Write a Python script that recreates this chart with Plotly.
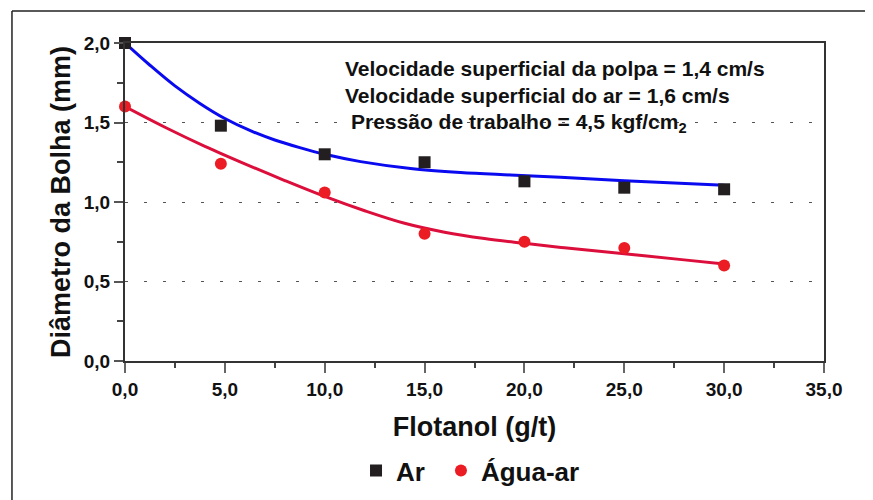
import plotly.graph_objects as go

# ---- data ----
flotanol = [0, 4.8, 10, 15, 20, 25, 30]
ar = [2.00, 1.48, 1.30, 1.25, 1.13, 1.09, 1.08]
agua_ar = [1.60, 1.24, 1.06, 0.80, 0.75, 0.71, 0.60]

# fitted curves
fit_ar_x = [0, 1.25, 2.5, 3.75, 5, 6.25, 7.5, 8.75, 10, 11.8, 14.3, 16.8, 19.3, 21.8, 25, 27.5, 30]
fit_ar_y = [2.000, 1.860, 1.730, 1.620, 1.525, 1.450, 1.390, 1.342, 1.300, 1.254, 1.211, 1.186,
            1.170, 1.155, 1.134, 1.120, 1.105]
fit_agua_x = [0, 2, 4, 6, 8, 10, 12, 14, 16, 18, 20, 22, 24, 26, 28, 30]
fit_agua_y = [1.600, 1.470, 1.350, 1.240, 1.135, 1.035, 0.945, 0.866, 0.810, 0.770, 0.740,
              0.712, 0.687, 0.662, 0.636, 0.610]

x_ticks = [0, 5, 10, 15, 20, 25, 30, 35]
x_ticktext = ["0,0", "5,0", "10,0", "15,0", "20,0", "25,0", "30,0", "35,0"]
y_ticks = [0, 0.5, 1.0, 1.5, 2.0]
y_ticktext = ["0,0", "0,5", "1,0", "1,5", "2,0"]

notes = [
    "Velocidade superficial da polpa = 1,4 cm/s",
    "Velocidade superficial do ar = 1,6 cm/s",
    "Pressão de trabalho = 4,5 kgf/cm<sub>2</sub>",
]

FONT = "Liberation Sans, Arial, Helvetica, sans-serif"

fig = go.Figure()
fig.add_trace(go.Scatter(x=fit_ar_x, y=fit_ar_y, mode="lines", line=dict(color="#0a0af0", width=3, shape="spline"),
                         showlegend=False, hoverinfo="skip", cliponaxis=False))
fig.add_trace(go.Scatter(x=fit_agua_x, y=fit_agua_y, mode="lines", line=dict(color="#dc0f3c", width=3, shape="spline"),
                         showlegend=False, hoverinfo="skip", cliponaxis=False))
fig.add_trace(go.Scatter(x=flotanol, y=ar, mode="markers", name="Ar", legend="legend",
                         marker=dict(symbol="square", size=12, color="#231f20"), cliponaxis=False))
fig.add_trace(go.Scatter(x=flotanol, y=agua_ar, mode="markers", name="Água-ar", legend="legend2",
                         marker=dict(symbol="circle", size=12, color="#ec1c24"), cliponaxis=False))

ys = [0.921, 0.836, 0.748]
xs = [0.3119, 0.3119, 0.3205]
for t, xx, yy in zip(notes, xs, ys):
    fig.add_annotation(text=t, x=xx, y=yy, xref="paper", yref="paper", xanchor="left", yanchor="middle",
                       showarrow=False, font=dict(size=21, color="#111", family=FONT, weight="bold"))

# outer frame (top and left edges visible)
fig.add_shape(type="line", xref="paper", yref="paper", x0=-0.1617, x1=1.2, y0=1.1006, y1=1.1006,
              line=dict(color="#222", width=1.5))
fig.add_shape(type="line", xref="paper", yref="paper", x0=-0.1617, x1=-0.1617, y0=-0.5, y1=1.1006,
              line=dict(color="#222", width=1.5))

fig.update_xaxes(range=[0, 35], tickvals=x_ticks, ticktext=x_ticktext, ticks="outside", ticklen=10,
                 tickwidth=1.5, tickcolor="#666", showline=True, linecolor="#333", linewidth=2,
                 mirror=True, showgrid=False, zeroline=False, automargin=False,
                 minor=dict(dtick=2.5, tick0=0, ticks="outside", ticklen=5, tickcolor="#444", showgrid=False),
                 tickfont=dict(size=19, family=FONT, color="#111", weight="bold"),
                 title=dict(text="Flotanol (g/t)", font=dict(size=27, family=FONT, color="#111", weight="bold"),
                            standoff=18))
fig.update_yaxes(range=[0, 2], tickvals=y_ticks, ticktext=y_ticktext, ticks="outside", ticklen=9,
                 tickwidth=1.5, tickcolor="#555", showline=True, linecolor="#333", linewidth=2,
                 mirror=True, showgrid=True, gridcolor="#555", gridwidth=1, griddash="3px,16px",
                 zeroline=False, automargin=False,
                 minor=dict(dtick=0.25, tick0=0, ticks="outside", ticklen=6, tickcolor="#444", showgrid=False),
                 tickfont=dict(size=19, family=FONT, color="#111", weight="bold"),
                 title=dict(text="Diâmetro da Bolha (mm)", font=dict(size=27, family=FONT, color="#111", weight="bold"),
                            standoff=5))

legend_font = dict(size=26, family=FONT, color="#111", weight="bold")
fig.update_layout(
    template="none",
    width=873, height=500, autosize=False,
    margin=dict(l=117, r=57, t=35, b=147),
    paper_bgcolor="white", plot_bgcolor="white",
    font=dict(family=FONT, color="#111"),
    showlegend=True,
    legend=dict(orientation="h", x=0.3305, xanchor="left", y=-0.345, yanchor="middle",
                font=legend_font, bgcolor="rgba(0,0,0,0)"),
    legend2=dict(orientation="h", x=0.452, xanchor="left", y=-0.345, yanchor="middle",
                 font=legend_font, bgcolor="rgba(0,0,0,0)"),
)

fig.write_html("out.html")
